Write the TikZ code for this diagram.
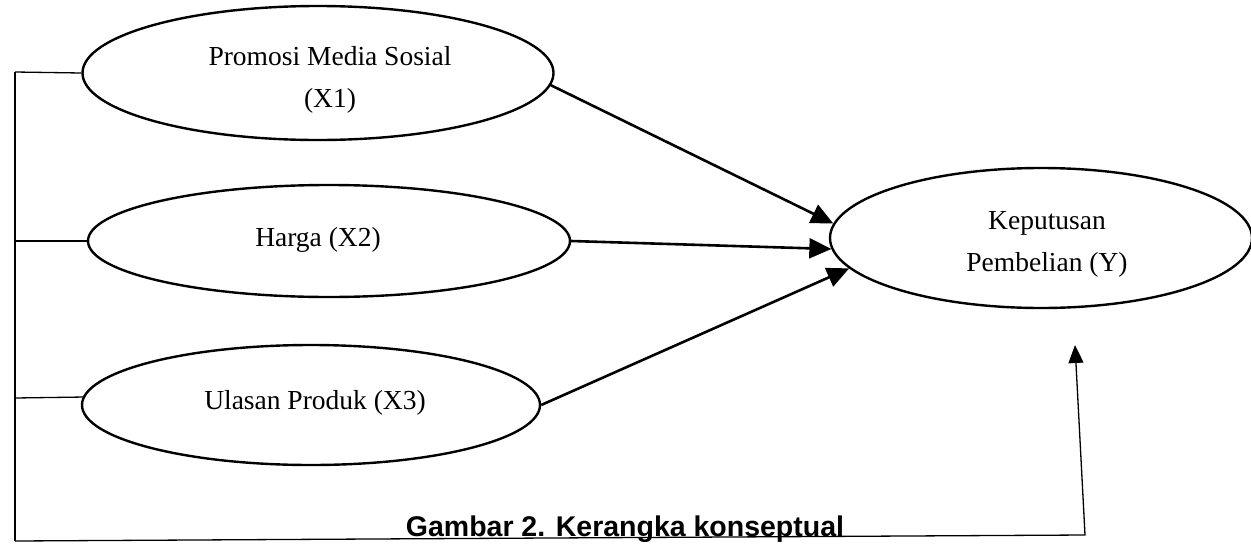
\documentclass[tikz,border=0pt]{standalone}
\usepackage{fontspec}
\setmainfont{Liberation Serif}
\newfontfamily\capfont{Liberation Sans}
\usetikzlibrary{shapes.geometric,arrows.meta}
\begin{document}
\begin{tikzpicture}[x=1pt,y=-1pt,
  varell/.style={ellipse,draw,line width=2.4pt,inner sep=0pt},
  lbl/.style={align=center,inner sep=0pt,font=\fontsize{27.5}{42}\selectfont},
  thin/.style={line width=1.3pt},
  arr/.style={line width=2.6pt,-{Triangle[length=22pt,width=20pt]}}]
\useasboundingbox (0,0) rectangle (1251,544);
\node[varell,minimum width=471pt,minimum height=134pt] (e1) at (318,73) {};
\node[lbl] (t1) at (330,80) {Promosi Media Sosial\\(X1)};
\node[varell,minimum width=482pt,minimum height=112pt] (e2) at (329,241) {};
\node[lbl] (t2) at (318,240) {Harga (X2)};
\node[varell,minimum width=458pt,minimum height=120pt] (e3) at (311,405) {};
\node[lbl] (t3) at (315,403) {Ulasan Produk (X3)};
\node[varell,minimum width=422pt,minimum height=140pt] (ey) at (1041,238) {};
\node[lbl] (ty) at (1047,244) {Keputusan\\Pembelian (Y)};
\coordinate (bt) at (15,72);
\coordinate (bb) at (15,541);
\coordinate (br) at (1085,535);
\coordinate (tip) at (1075,345);
\draw[thin] (bt) -- (bb);
\draw[thin] (bt) -- (e1.west);
\draw[thin] (bt |- e2.west) -- (e2.west);
\draw[thin] (15,398) -- (e3.178);
\draw[arr] (e1.-3) -- (ey.176);
\draw[arr] (e2.east) -- (ey.183);
\draw[arr] (e3.east) -- (ey.189);
\draw[thin,-{Triangle[length=18pt,width=15pt]}] (bb) -- (br) -- (tip);
\node[font=\capfont\bfseries\fontsize{28.5}{32}\selectfont,anchor=base] (cap) at (625,536.5) {Gambar 2. Kerangka konseptual};
\end{tikzpicture}
\end{document}
